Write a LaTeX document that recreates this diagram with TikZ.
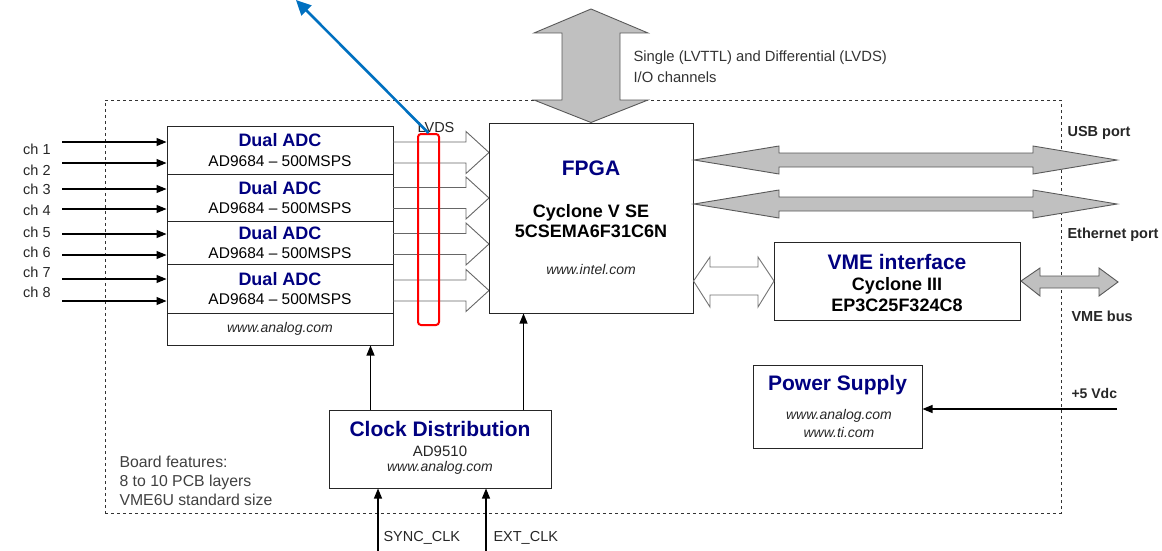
\documentclass[tikz,border=0pt]{standalone}
\usepackage{fontspec}
\setmainfont{Liberation Sans}
\usetikzlibrary{arrows.meta}
\definecolor{titleblue}{RGB}{0,0,128}
\definecolor{busgray}{RGB}{192,192,192}
\definecolor{linkblue}{RGB}{0,112,192}
\tikzset{
  blockbox/.style={draw=black!85, line width=1pt, inner sep=0pt},
  titletxt/.style={font=\bfseries\fontsize{21}{24}\selectfont, text=titleblue},
  boldtxt/.style={font=\bfseries\fontsize{18}{20.5}\selectfont, align=center},
  plaintxt/.style={font=\fontsize{14.5}{19.5}\selectfont, text=black!85},
  urltxt/.style={font=\itshape\fontsize{14}{18}\selectfont, align=center, text=black!85},
  sig/.style={draw=black, line width=1.1pt, -{Triangle[length=10pt,width=8pt]}},
  busarrow/.style={draw=black!65, fill=busgray, line width=0.9pt},
  hollowarrow/.style={draw=black!55, fill=white, line width=0.9pt}
}
\begin{document}
\begin{tikzpicture}[x=1pt, y=-1pt]
  \useasboundingbox (0,0) rectangle (1162,551);
  \node[draw=black!80, dashed, line width=0.9pt, minimum width=956pt, minimum height=413pt, inner sep=0pt] (board) at (583,306.5) {};

  % ADC stack
  \foreach \i/\yc/\h in {1/150/48, 2/197.5/47, 3/242.5/43, 4/288.5/49}
    \node[blockbox, minimum width=226pt, minimum height=\h pt, align=center, font=\fontsize{15.5}{19.5}\selectfont] (adc\i) at (280,\yc)
      {{\color{titleblue}\bfseries\fontsize{18}{19.5}\selectfont Dual ADC}\\AD9684 – 500MSPS};
  \node[blockbox, urltxt, minimum width=226pt, minimum height=32pt] (adcweb) at (280,329) {www.analog.com};

  \foreach \n/\ya/\yl in {1/142/149, 2/163/170, 3/189/189, 4/209/210, 5/234/232, 6/255/252, 7/279/272, 8/301/292} {
    \node[plaintxt, anchor=west, inner sep=0pt] (ch\n) at (23,\yl) {ch \n};
    \coordinate (chin\n) at (62,\ya);
    \draw[sig] (chin\n) -- (chin\n -| adc1.west);
  }

  \foreach \yc in {152.5,198,244,290.5}
    \draw[draw=black!60, line width=0.9pt] (393,\yc-10.5) -- (466,\yc-10.5) -- (466,\yc-21) -- (489,\yc) -- (466,\yc+21) -- (466,\yc+10.5) -- (393,\yc+10.5);

  % FPGA
  \node[blockbox, minimum width=204pt, minimum height=190pt] (fpga) at (591,218) {};
  \node[titletxt] (fpgatitle) at (591,168) {FPGA};
  \node[boldtxt] (fpgadev) at (591,221) {Cyclone V SE\\5CSEMA6F31C6N};
  \node[urltxt] (fpgaweb) at (591,269) {www.intel.com};

  \draw[busarrow] (591,9) -- (648,33) -- (620,33) -- (620,100) -- (648,100) -- (fpga.north) -- (534,100) -- (562,100) -- (562,33) -- (534,33) -- cycle;
  \node[plaintxt, font=\fontsize{14.8}{21}\selectfont, anchor=west, align=left, text=black!80] (iolabel) at (630,66.5) {Single (LVTTL) and Differential (LVDS)\\I/O channels};

  \foreach \yc in {160,204}
    \draw[busarrow] (694,\yc) -- (779,\yc-14) -- (779,\yc-7) -- (1033,\yc-7) -- (1033,\yc-14) -- (1117,\yc) -- (1033,\yc+14) -- (1033,\yc+7) -- (779,\yc+7) -- (779,\yc+14) -- cycle;
  \node[plaintxt, font=\bfseries\fontsize{14.5}{17}\selectfont, anchor=west] (usb) at (1064,133) {USB port};
  \node[plaintxt, font=\bfseries\fontsize{14.5}{17}\selectfont, anchor=west] (eth) at (1064,235) {Ethernet port};

  % VME interface
  \node[blockbox, minimum width=246pt, minimum height=78pt] (vme) at (897.5,281) {};
  \node[titletxt] (vmetitle) at (897,262) {VME interface};
  \node[boldtxt] (vmedev) at (897,294.5) {Cyclone III\\EP3C25F324C8};
  \draw[hollowarrow] (fpga.east |- vme.west) -- (710,257) -- (710,267) -- (758,267) -- (758,257) -- (vme.west) -- (758,307) -- (758,295) -- (710,295) -- (710,307) -- cycle;
  \draw[busarrow] (vme.east) -- (1040,268) -- (1040,276) -- (1099,276) -- (1099,268) -- (1118,282) -- (1099,296) -- (1099,288) -- (1040,288) -- (1040,296) -- cycle;
  \node[plaintxt, font=\bfseries\fontsize{14.5}{17}\selectfont, anchor=west] (vmebus) at (1068,316) {VME bus};

  % power supply
  \node[blockbox, minimum width=169pt, minimum height=83pt] (psu) at (837.5,406.5) {};
  \node[titletxt] (psutitle) at (837.5,385) {Power Supply};
  \node[urltxt] (psuweb) at (839,423) {www.analog.com\\www.ti.com};
  \coordinate (vin) at (1117,409);
  \draw[sig] (vin) -- (vin -| psu.east);
  \node[plaintxt, font=\bfseries\fontsize{14}{17}\selectfont, anchor=west] (vinlabel) at (1068,393) {+5 Vdc};

  % clock
  \node[blockbox, minimum width=222pt, minimum height=78pt] (clk) at (440,449) {};
  \node[titletxt] (clktitle) at (440,429) {Clock Distribution};
  \node[plaintxt, font=\fontsize{15}{18}\selectfont] (clkdev) at (440,451) {AD9510};
  \node[urltxt] (clkweb) at (440,468) {www.analog.com};
  \draw[sig] ([xshift=42pt]clk.north west) -- ([xshift=42pt]clk.north west |- adcweb.south);
  \draw[sig] ([xshift=-28pt]clk.north east) -- ([xshift=-28pt]clk.north east |- fpga.south);
  \coordinate (syncin) at (378,551);
  \coordinate (extin) at (486,551);
  \draw[sig] (syncin) -- (syncin |- clk.south);
  \draw[sig] (extin) -- (extin |- clk.south);
  \node[plaintxt, anchor=west] (synclabel) at (380,538) {SYNC\_CLK};
  \node[plaintxt, anchor=west] (extlabel) at (490,538) {EXT\_CLK};

  \node[plaintxt, font=\fontsize{15.8}{19}\selectfont, anchor=west, align=left, text=black!75] (features) at (116,481) {Board features:\\8 to 10 PCB layers\\VME6U standard size};

  % LVDS marker
  \node[plaintxt] (lvdslabel) at (436,128) {LVDS};
  \node[draw=red, line width=2pt, rounded corners=3pt, minimum width=21pt, minimum height=191pt, inner sep=0pt] (lvdsmark) at (428.5,229.5) {};
  \coordinate (linktip) at (296,0);
  \draw[draw=linkblue, line width=2.6pt, -{Triangle[length=15pt,width=14pt]}] (lvdsmark.north) -- (linktip);
\end{tikzpicture}
\end{document}
